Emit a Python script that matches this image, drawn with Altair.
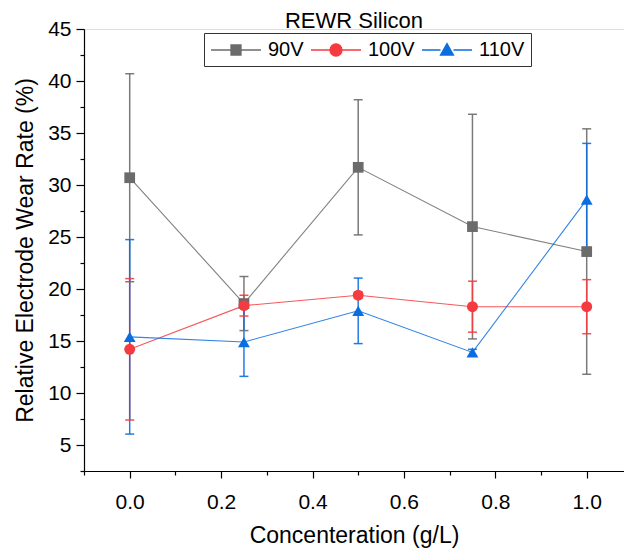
import altair as alt
import pandas as pd

# ---- data ----
conc = [0.0, 0.25, 0.5, 0.75, 1.0]
series = ["90V", "100V", "110V"]
mean_90 = [30.7, 18.6, 31.7, 26.0, 23.6]
err_90 = [10.0, 2.6, 6.5, 10.8, 11.8]
mean_100 = [14.2, 18.4, 19.4, 18.3, 18.3]
err_100 = [6.8, 1.0, 0.3, 2.45, 2.6]
mean_110 = [15.4, 14.9, 17.9, 13.9, 28.6]
err_110 = [9.35, 3.3, 3.15, 0.3, 5.4]

x_tick_values = [-0.1, 0.0, 0.1, 0.2, 0.3, 0.4, 0.5, 0.6, 0.7, 0.8, 0.9, 1.0]
y_tick_values = [2.5, 5, 7.5, 10, 12.5, 15, 17.5, 20, 22.5, 25, 27.5, 30,
                 32.5, 35, 37.5, 40, 42.5, 45]

colors = ["#6b6b6b", "#f53b3f", "#0b6ee0"]
marker_shapes = ["square", "circle", "triangle-up"]
marker_sizes = [115, 120, 140]
# legend glyphs: a line segment with the marker in its middle (unit = 10 px)
legend_paths = [
    "M-1,0H1M2,0H4M1,-0.5H2V0.5H1Z",
    "M-1,0H0.9M2.1,0H4M0.9,0A0.6,0.6 0 1 0 2.1,0A0.6,0.6 0 1 0 0.9,0Z",
    "M-1,0H0.85M2.15,0H4M0.85,0.5L1.5,-0.65L2.15,0.5Z",
]

FONT = "Liberation Sans"

rows = []
for s, means, errs in zip(series, [mean_90, mean_100, mean_110], [err_90, err_100, err_110]):
    for c, m, e in zip(conc, means, errs):
        rows.append({"series": s, "conc": c, "val": m, "lo": m - e, "hi": m + e})
df = pd.DataFrame(rows)

x_scale = alt.Scale(domain=[-0.1, 1.0816], nice=False, zero=False)
y_scale = alt.Scale(domain=[2.5, 45], nice=False, zero=False)
# colour scale for the plotted marks (listed in reverse order so that its
# disabled legend is not merged with the visible legend below)
color_scale = alt.Scale(domain=series[::-1], range=colors[::-1])

x_axis = alt.Axis(
    values=x_tick_values, format=".1f", title="Concenteration (g/L)",
    labelExpr="round(datum.value*10) % 2 === 0 ? datum.label : ''",
    labelOverlap=False,
    tickSize={"condition": {"test": "round(datum.value*10) % 2 === 0", "value": 7}, "value": 4},
    grid=False, domainColor="black", tickColor="black", domainWidth=1.2, tickWidth=1.2,
    labelFont=FONT, labelFontSize=21, labelColor="black", labelPadding=13,
    titleFont=FONT, titleFontSize=23, titleFontWeight="normal", titleColor="black",
    titlePadding=12,
)
y_axis = alt.Axis(
    values=y_tick_values, title="Relative Electrode Wear Rate (%)",
    labelExpr="round(datum.value*2) % 2 === 0 ? datum.label : ''",
    labelOverlap=False,
    tickSize={"condition": {"test": "round(datum.value*2) % 2 === 0", "value": 8}, "value": 4},
    grid=False, domainColor="black", tickColor="black", domainWidth=1.2, tickWidth=1.2,
    labelFont=FONT, labelFontSize=21, labelColor="black", labelPadding=5,
    titleFont=FONT, titleFontSize=23, titleFontWeight="normal", titleColor="black",
    titlePadding=10,
)

base = alt.Chart(df)
X = alt.X("conc:Q", scale=x_scale, axis=x_axis)
C = alt.Color("series:N", scale=color_scale, legend=None)

def Y(field):
    return alt.Y(field, scale=y_scale, axis=y_axis)

err_rule = base.mark_rule(strokeWidth=1.5, opacity=0.9).encode(
    x=X, y=Y("lo:Q"), y2="hi:Q", color=C)
cap_lo = base.mark_tick(thickness=1.5, size=9, orient="horizontal", opacity=0.9).encode(
    x=X, y=Y("lo:Q"), color=C)
cap_hi = base.mark_tick(thickness=1.5, size=9, orient="horizontal", opacity=0.9).encode(
    x=X, y=Y("hi:Q"), color=C)
lines = base.mark_line(strokeWidth=1.1, opacity=0.85).encode(
    x=X, y=Y("val:Q"), color=C, detail="series:N", order="conc:Q")

point_layers = []
for s, shp, sz in zip(series, marker_shapes, marker_sizes):
    point_layers.append(
        base.transform_filter(alt.datum.series == s)
        .mark_point(filled=True, opacity=1, shape=shp, size=sz)
        .encode(x=X, y=Y("val:Q"), color=C)
    )

leg = alt.Legend(
    orient="none", legendX=120, legendY=4, direction="horizontal", title=None,
    symbolSize=400, symbolStrokeWidth=1.3, symbolOpacity=1,
    labelFont=FONT, labelFontSize=20, labelColor="black", labelOffset=36,
    columnPadding=4, padding=6, strokeColor="#333333", fillColor="white",
)
# legend-only layer: no rows survive the filter, the legend comes from the explicit scale domains
legend_layer = base.transform_filter(alt.datum.conc > 100).mark_point(filled=True, opacity=1).encode(
    x=X, y=Y("val:Q"),
    fill=alt.Fill("series:N", scale=alt.Scale(domain=series, range=colors), legend=leg),
    stroke=alt.Stroke("series:N", scale=alt.Scale(domain=series, range=colors), legend=leg),
    shape=alt.Shape("series:N", scale=alt.Scale(domain=series, range=legend_paths), legend=leg),
)

chart = alt.layer(err_rule, cap_lo, cap_hi, lines, *point_layers, legend_layer).properties(
    width=540, height=442,
    title=alt.TitleParams("REWR Silicon", font=FONT, fontSize=22, fontWeight="normal",
                          color="black", anchor="middle", offset=-15),
    autosize=alt.AutoSizeParams(type="none"),
    padding={"left": 84, "top": 29, "right": 0, "bottom": 79},
).configure_view(stroke=None).configure(background="white")

chart.save("out.html", embed_options={"renderer": "svg", "actions": False})
